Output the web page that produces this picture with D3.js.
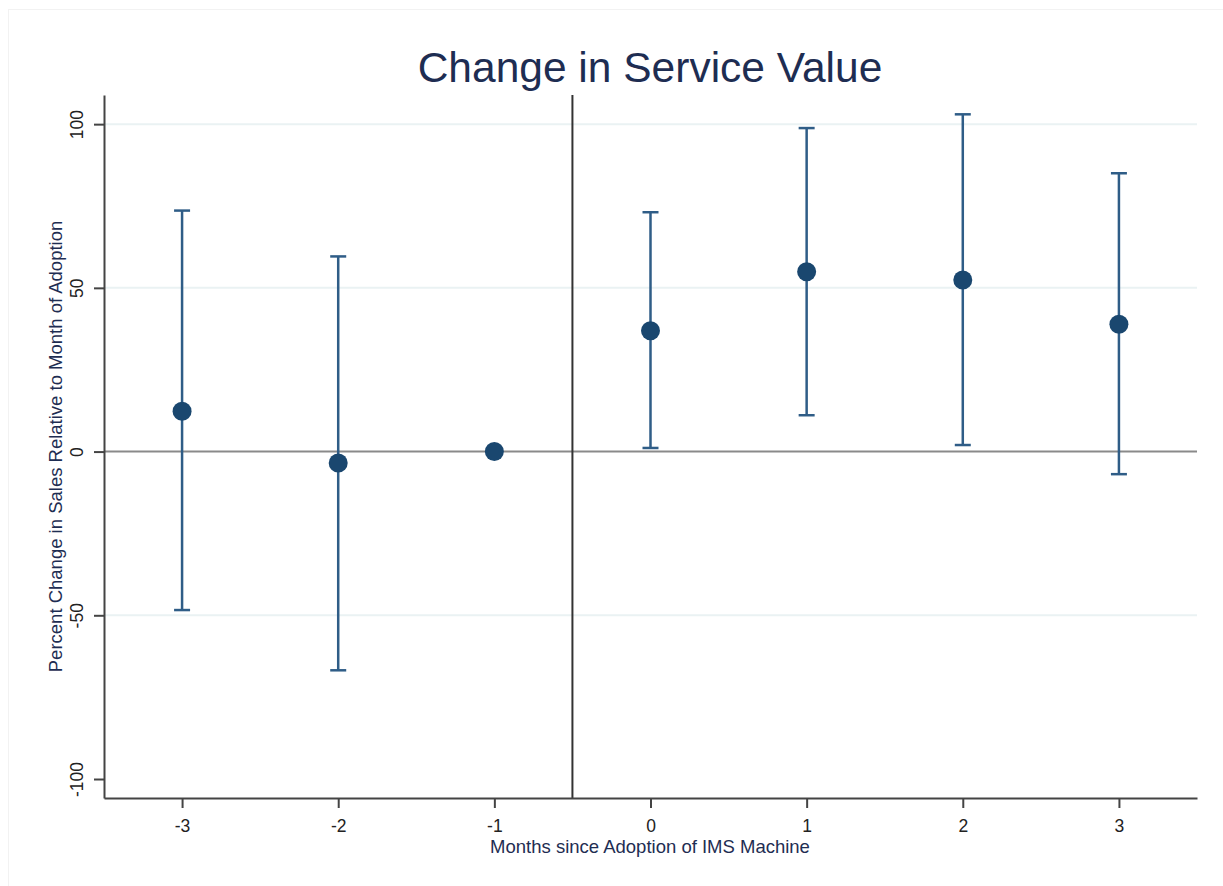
<!DOCTYPE html>
<html>
<head>
<meta charset="utf-8">
<script src="https://cdn.jsdelivr.net/npm/d3@7"></script>
<style>
  html, body { margin: 0; padding: 0; background: #ffffff; }
  svg { display: block; }
  text { font-family: "Liberation Sans", Arial, sans-serif; }
</style>
</head>
<body>
<script>
// Event-study estimates: months relative to adoption, point estimate and 95% CI
const months = [-3, -2, -1, 0, 1, 2, 3];
const estimates = [12.3, -3.5, 0, 36.9, 54.9, 52.4, 38.9];
const lowerCI = [-48.4, -66.8, null, 1.1, 11.1, 2.0, -6.9];
const upperCI = [73.6, 59.6, null, 73.1, 98.8, 103.0, 85.0];
const yTicks = [-100, -50, 0, 50, 100];
const yGrid = [-50, 50, 100];

const W = 1223, H = 886;
const svg = d3.select("body").append("svg").attr("width", W).attr("height", H);

// faint outer frame
svg.append("rect").attr("x", 8.5).attr("y", 9.5).attr("width", W).attr("height", H)
  .attr("fill", "none").attr("stroke", "#f2f2f2").attr("stroke-width", 1);

const yMin = -105.8, yMax = 108.9;
const x = d3.scaleLinear().domain([-3.5, 3.5]).range([104, 1197]);
const y = d3.scaleLinear().domain([yMin, yMax]).range([798, 95]);
const plain = d => String(d); // hyphen-minus labels

// horizontal gridlines
svg.append("g").selectAll("line").data(yGrid).join("line")
  .attr("x1", x(-3.5)).attr("x2", x(3.5))
  .attr("y1", d => y(d)).attr("y2", d => y(d))
  .attr("stroke", "#eaf2f3").attr("stroke-width", 2);

// reference line at zero
svg.append("line")
  .attr("x1", x(-3.5)).attr("x2", x(3.5)).attr("y1", y(0)).attr("y2", y(0))
  .attr("stroke", "#8a8a8a").attr("stroke-width", 2);

// adoption line between month -1 and month 0
svg.append("line")
  .attr("x1", x(-0.5)).attr("x2", x(-0.5)).attr("y1", y(yMax)).attr("y2", y(yMin))
  .attr("stroke", "#333333").attr("stroke-width", 2);

// y axis
const yAxis = svg.append("g").attr("transform", `translate(${x(-3.5)},0)`)
  .call(d3.axisLeft(y).tickValues(yTicks).tickSize(10).tickSizeOuter(0).tickFormat(plain));
yAxis.select(".domain").attr("stroke", "#444").attr("stroke-width", 2);
yAxis.selectAll(".tick line").attr("stroke", "#444").attr("stroke-width", 2);
yAxis.selectAll(".tick text")
  .attr("font-size", 17.5).attr("fill", "#222")
  .attr("transform", "rotate(-90)")
  .attr("x", 0).attr("y", -21).attr("dy", 0)
  .attr("text-anchor", "middle");

// x axis
const xAxis = svg.append("g").attr("transform", `translate(0,${y(yMin)})`)
  .call(d3.axisBottom(x).tickValues(months).tickSize(10).tickSizeOuter(0).tickPadding(12).tickFormat(plain));
xAxis.select(".domain").attr("stroke", "#444").attr("stroke-width", 2);
xAxis.selectAll(".tick line").attr("stroke", "#444").attr("stroke-width", 2);
xAxis.selectAll(".tick text").attr("font-size", 17.5).attr("fill", "#222");

// confidence intervals
const rows = months.map((m, i) => ({ m, est: estimates[i], lo: lowerCI[i], hi: upperCI[i] }));
const ci = rows.filter(d => d.lo !== null);
const barColor = "#2f5d87";
const capHalf = 8;
const g = svg.append("g");
g.selectAll("line.stem").data(ci).join("line").attr("class", "stem")
  .attr("x1", d => x(d.m)).attr("x2", d => x(d.m))
  .attr("y1", d => y(d.lo)).attr("y2", d => y(d.hi))
  .attr("stroke", barColor).attr("stroke-width", 2.5);
g.selectAll("line.capHi").data(ci).join("line").attr("class", "capHi")
  .attr("x1", d => x(d.m) - capHalf).attr("x2", d => x(d.m) + capHalf)
  .attr("y1", d => y(d.hi)).attr("y2", d => y(d.hi))
  .attr("stroke", barColor).attr("stroke-width", 2.5);
g.selectAll("line.capLo").data(ci).join("line").attr("class", "capLo")
  .attr("x1", d => x(d.m) - capHalf).attr("x2", d => x(d.m) + capHalf)
  .attr("y1", d => y(d.lo)).attr("y2", d => y(d.lo))
  .attr("stroke", barColor).attr("stroke-width", 2.5);

// point estimates
g.selectAll("circle").data(rows).join("circle")
  .attr("cx", d => x(d.m)).attr("cy", d => y(d.est)).attr("r", 9.5)
  .attr("fill", "#1a476f");

// titles
svg.append("text").attr("x", 650).attr("y", 82).attr("text-anchor", "middle")
  .attr("font-size", 42.5).attr("fill", "#1e2d52").text("Change in Service Value");
svg.append("text").attr("x", 650).attr("y", 853).attr("text-anchor", "middle")
  .attr("font-size", 18.5).attr("fill", "#1e2d52").text("Months since Adoption of IMS Machine");
svg.append("text").attr("transform", `translate(62,${(y(yMax) + y(yMin)) / 2}) rotate(-90)`)
  .attr("text-anchor", "middle").attr("font-size", 18.5).attr("fill", "#1e2d52")
  .text("Percent Change in Sales Relative to Month of Adoption");
</script>
</body>
</html>
